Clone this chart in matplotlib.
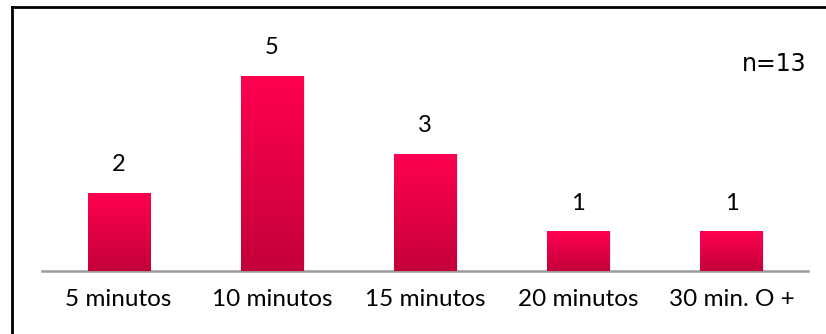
import numpy as np
import matplotlib.pyplot as plt
from matplotlib.colors import LinearSegmentedColormap
from matplotlib.lines import Line2D

categories = ['5 minutos', '10 minutos', '15 minutos', '20 minutos', '30 min. O +']
counts = [2, 5, 3, 1, 1]
total_label = 'n=13'

plt.rcParams['font.family'] = ['Lato', 'DejaVu Sans']

fig = plt.figure(figsize=(8.26, 3.34), dpi=100)
ax = fig.add_axes([42 / 826, (334 - 271) / 334, 766 / 826, 234 / 334])

grad = LinearSegmentedColormap.from_list('bar', ['#c4003b', '#ff0050'])
width = 0.405
x = np.arange(len(categories))

bars = ax.bar(x, counts, width=width, color='none', zorder=2)
for b, v in zip(bars, counts):
    x0 = b.get_x()
    # soft shadow to the right of each bar
    ax.bar(x0 + width / 2 + 0.012, v, width=width, color='#000000', alpha=0.08, zorder=1)
    img = np.linspace(0, 1, 100).reshape(-1, 1)
    ax.imshow(img, cmap=grad, aspect='auto', origin='lower',
              extent=(x0, x0 + width, 0, v), zorder=3)
    ax.text(b.get_x() + width / 2, v + 0.72, str(v), ha='center', va='center',
            fontsize=17, color='black')

ax.set_xlim(-0.5, len(categories) - 0.5)
ax.set_ylim(0, 6)
ax.set_xticks(x)
ax.set_xticklabels(categories, fontsize=17.5)
ax.tick_params(axis='x', length=0, pad=13)
ax.set_yticks([])
for side in ['top', 'right', 'left']:
    ax.spines[side].set_visible(False)
ax.spines['bottom'].set_color('#9a9a9a')
ax.spines['bottom'].set_linewidth(1.8)

fig.text(774 / 826, 1 - 64 / 334, total_label, ha='center', va='center',
         fontsize=17, family=['DejaVu Sans'])

# frame around the chart area
fig.add_artist(Line2D([12 / 826, 12 / 826], [0, 1 - 7 / 334], color='black', lw=2,
                      transform=fig.transFigure))
fig.add_artist(Line2D([12 / 826, 1], [1 - 7 / 334, 1 - 7 / 334], color='black', lw=2,
                      transform=fig.transFigure))

fig.savefig('out.png', dpi=100)
